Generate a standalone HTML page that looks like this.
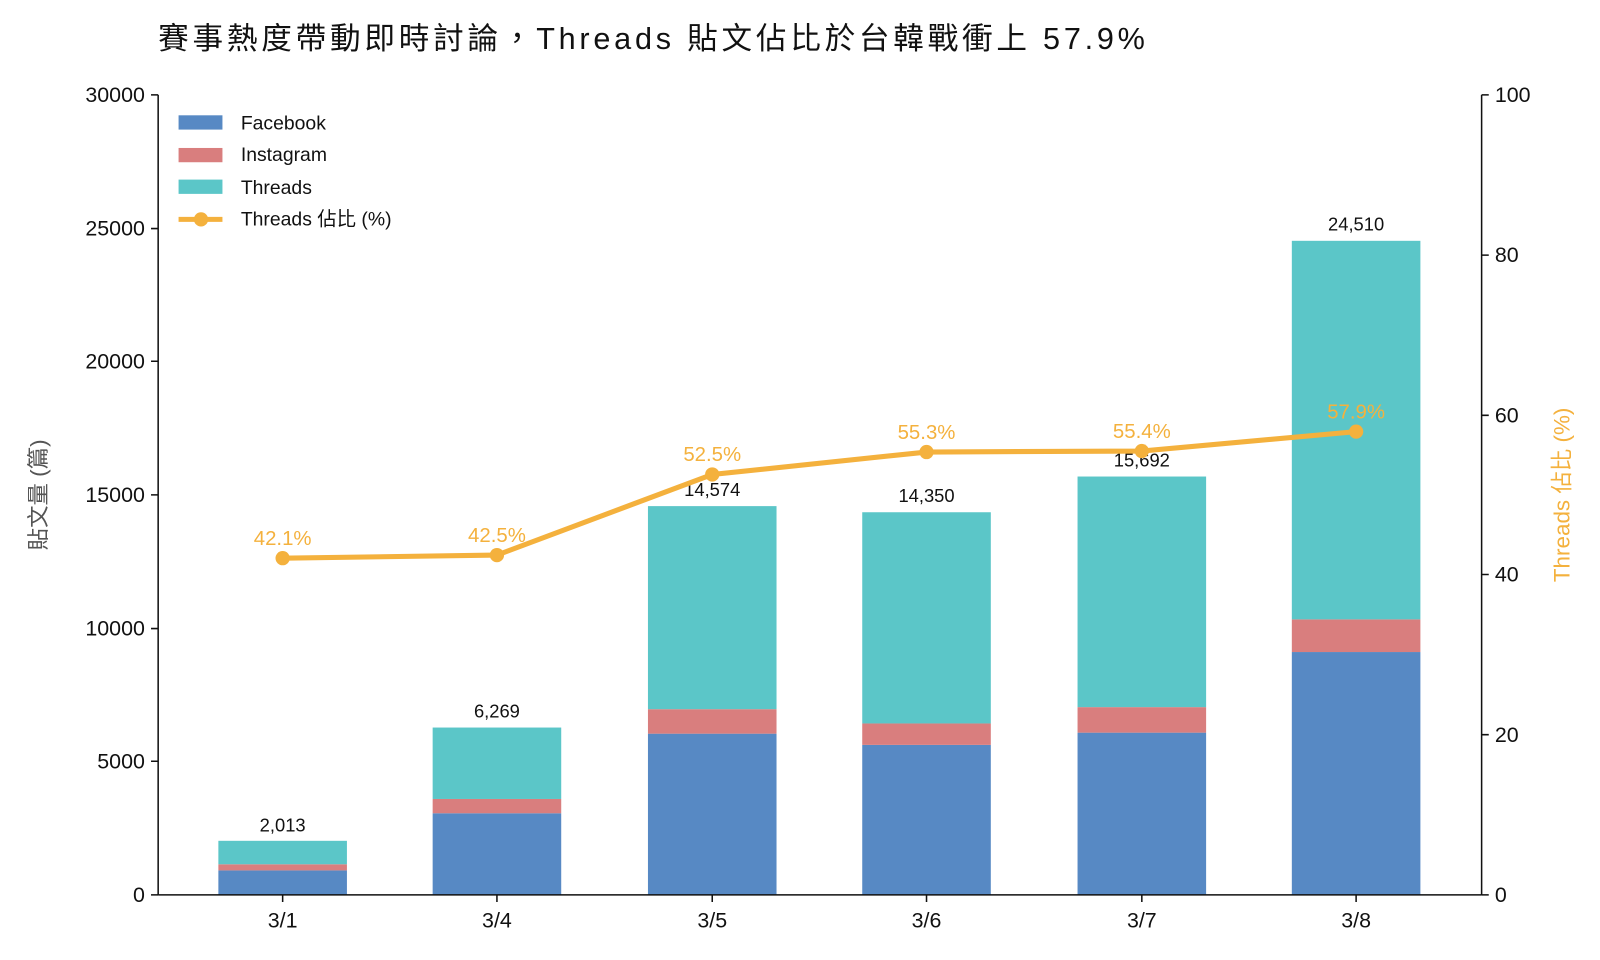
<!DOCTYPE html>
<html><head><meta charset="utf-8"><style>
body{margin:0;background:#fff;}
svg{display:block;font-family:"Liberation Sans","Noto Sans CJK TC",sans-serif;}
</style></head><body>
<svg width="1600" height="960" viewBox="0 0 1600 960">
<g transform="scale(1.0204)">
<text x="155" y="48" font-size="30" fill="#111" textLength="967" lengthAdjust="spacing">賽事熱度帶動即時討論，Threads 貼文佔比於台韓戰衝上 57.9%</text>
<g>
<rect x="214" y="853" width="126" height="24" fill="#5789c4"/><rect x="214" y="847" width="126" height="6" fill="#d97e7e"/><rect x="214" y="824" width="126" height="23" fill="#5bc6c8"/>
<rect x="424" y="797" width="126" height="80" fill="#5789c4"/><rect x="424" y="783" width="126" height="14" fill="#d97e7e"/><rect x="424" y="713" width="126" height="70" fill="#5bc6c8"/>
<rect x="635" y="719" width="126" height="158" fill="#5789c4"/><rect x="635" y="695" width="126" height="24" fill="#d97e7e"/><rect x="635" y="496" width="126" height="199" fill="#5bc6c8"/>
<rect x="845" y="730" width="126" height="147" fill="#5789c4"/><rect x="845" y="709" width="126" height="21" fill="#d97e7e"/><rect x="845" y="502" width="126" height="207" fill="#5bc6c8"/>
<rect x="1056" y="718" width="126" height="159" fill="#5789c4"/><rect x="1056" y="693" width="126" height="25" fill="#d97e7e"/><rect x="1056" y="467" width="126" height="226" fill="#5bc6c8"/>
<rect x="1266" y="639" width="126" height="238" fill="#5789c4"/><rect x="1266" y="607" width="126" height="32" fill="#d97e7e"/><rect x="1266" y="236" width="126" height="371" fill="#5bc6c8"/>
</g>
<g font-size="18" fill="#111" text-anchor="middle">
<text x="277" y="815">2,013</text><text x="487" y="703">6,269</text><text x="698" y="486">14,574</text><text x="908" y="492">14,350</text><text x="1119" y="457">15,692</text><text x="1329" y="226">24,510</text>
</g>
<polyline points="277,547 487,544 698,465 908,443 1119,442 1329,423" fill="none" stroke="#f4b13d" stroke-width="5"/>
<g fill="#f4b13d"><circle cx="277" cy="547" r="7"/><circle cx="487" cy="544" r="7"/><circle cx="698" cy="465" r="7"/><circle cx="908" cy="443" r="7"/><circle cx="1119" cy="442" r="7"/><circle cx="1329" cy="423" r="7"/></g>
<g font-size="20" fill="#f4b13d" text-anchor="middle">
<text x="277" y="534">42.1%</text><text x="487" y="531">42.5%</text><text x="698" y="452">52.5%</text><text x="908" y="430">55.3%</text><text x="1119" y="429">55.4%</text><text x="1329" y="410">57.9%</text>
</g>
<g stroke="#111" stroke-width="1.5" fill="none">
<line x1="155" y1="93" x2="155" y2="877"/><line x1="1452" y1="93" x2="1452" y2="877"/><line x1="155" y1="877" x2="1452" y2="877"/>
<path d="M148 877H155M148 746H155M148 616H155M148 485H155M148 354H155M148 224H155M148 93H155"/>
<path d="M1452 877H1459M1452 720H1459M1452 563H1459M1452 407H1459M1452 250H1459M1452 93H1459"/>
<path d="M277 877V884M487 877V884M698 877V884M908 877V884M1119 877V884M1329 877V884"/>
</g>
<g font-size="21" fill="#111" text-anchor="end">
<text x="142" y="884">0</text><text x="142" y="753">5000</text><text x="142" y="623">10000</text><text x="142" y="492">15000</text><text x="142" y="361">20000</text><text x="142" y="231">25000</text><text x="142" y="100">30000</text>
</g>
<g font-size="21" fill="#111">
<text x="1465" y="884">0</text><text x="1465" y="727">20</text><text x="1465" y="570">40</text><text x="1465" y="414">60</text><text x="1465" y="257">80</text><text x="1465" y="100">100</text>
</g>
<g font-size="21" fill="#111" text-anchor="middle">
<text x="277" y="909">3/1</text><text x="487" y="909">3/4</text><text x="698" y="909">3/5</text><text x="908" y="909">3/6</text><text x="1119" y="909">3/7</text><text x="1329" y="909">3/8</text>
</g>
<text transform="translate(45,485) rotate(-90)" font-size="22" fill="#555" text-anchor="middle">貼文量 (篇)</text>
<text transform="translate(1538,485) rotate(-90)" font-size="22" fill="#f4b13d" text-anchor="middle">Threads 佔比 (%)</text>
<rect x="175" y="113" width="43" height="14" fill="#5789c4"/><text x="236" y="127" font-size="19" fill="#111">Facebook</text>
<rect x="175" y="145" width="43" height="14" fill="#d97e7e"/><text x="236" y="158" font-size="19" fill="#111">Instagram</text>
<rect x="175" y="176" width="43" height="14" fill="#5bc6c8"/><text x="236" y="190" font-size="19" fill="#111">Threads</text>
<line x1="175" y1="215" x2="218" y2="215" stroke="#f4b13d" stroke-width="5"/><circle cx="197" cy="215" r="7" fill="#f4b13d"/><text x="236" y="221" font-size="19" fill="#111">Threads 佔比 (%)</text>
</g>
</svg>
</body></html>
